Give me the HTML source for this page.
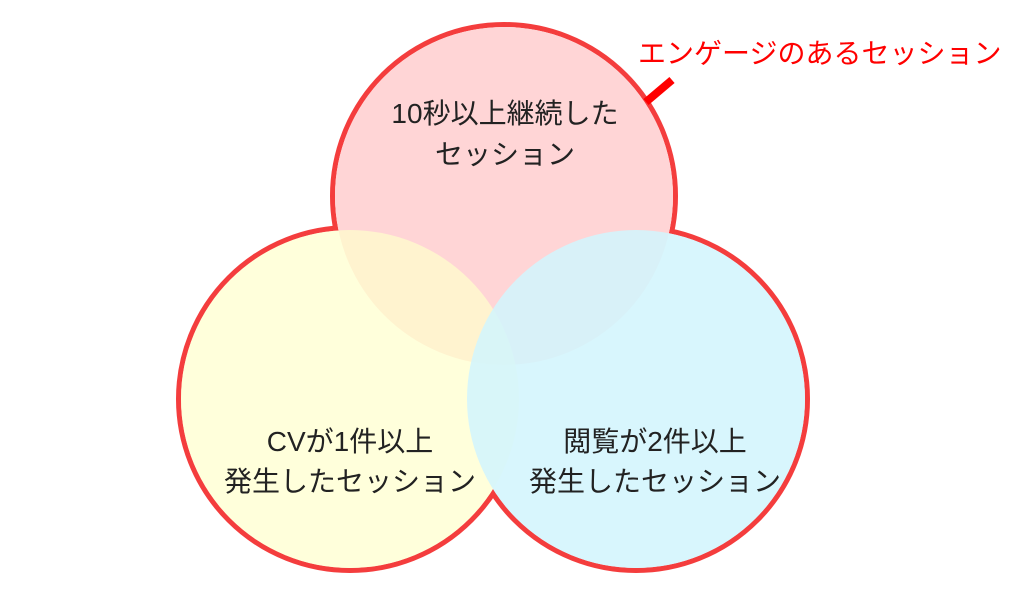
<!DOCTYPE html>
<html><head><meta charset="utf-8"><style>
html,body{margin:0;padding:0;background:#fff;width:1024px;height:607px;overflow:hidden}
text{font-family:"Liberation Sans","Noto Sans CJK JP",sans-serif;font-size:28px}
</style></head><body>
<svg width="1024" height="607" viewBox="0 0 1024 607">
<g stroke="#f43d3d" stroke-width="10" fill="none">
<circle cx="504" cy="196" r="169"/>
<circle cx="350" cy="399" r="169"/>
<circle cx="636" cy="399" r="169"/>
</g>
<g fill="#fff">
<circle cx="504" cy="196" r="169"/>
<circle cx="350" cy="399" r="169"/>
<circle cx="636" cy="399" r="169"/>
</g>
<circle cx="504" cy="196" r="169" fill="#ffd5d6"/>
<circle cx="350" cy="399" r="169" fill="#ffffcc" fill-opacity="0.7"/>
<circle cx="636" cy="399" r="169" fill="#d3f5fd" fill-opacity="0.88"/>
<line x1="646" y1="102" x2="672" y2="80" stroke="#ff0000" stroke-width="8"/>
<text x="638" y="63" fill="#ff0000">エンゲージのあるセッション</text>
<g fill="#222" text-anchor="middle">
<text x="505" y="123">10秒以上継続した</text>
<text x="505" y="164">セッション</text>
<text x="350" y="451">CVが1件以上</text>
<text x="350" y="491">発生したセッション</text>
<text x="655" y="451">閲覧が2件以上</text>
<text x="655" y="491">発生したセッション</text>
</g>
</svg>
</body></html>
